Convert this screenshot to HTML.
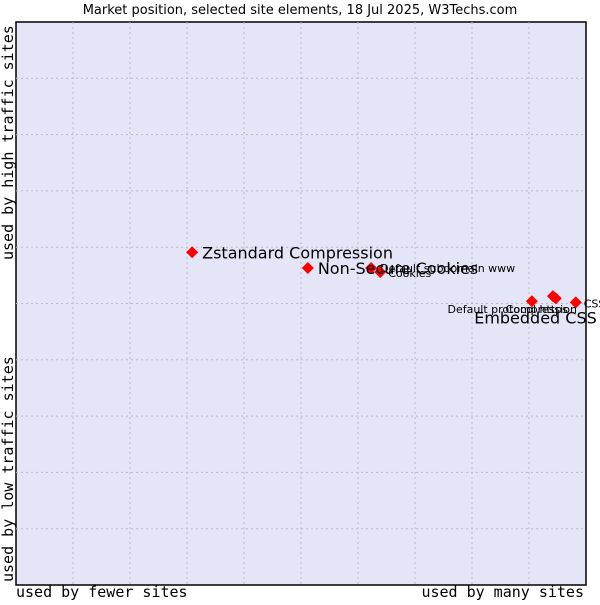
<!DOCTYPE html>
<html><head><meta charset="utf-8"><style>
body{margin:0;background:#fff;width:600px;height:600px;overflow:hidden}
svg text{font-family:"DejaVu Sans","Liberation Sans",sans-serif;fill:#000}
.mono{font-family:"DejaVu Sans Mono","Liberation Mono",monospace}
</style></head><body>
<svg id="chart" width="600" height="600">
<text x="300" y="14" font-size="13" text-anchor="middle">Market position, selected site elements, 18 Jul 2025, W3Techs.com</text>
<rect x="16" y="22" width="570" height="563" fill="#e4e5f7" stroke="#000" stroke-width="1.5"/>
<g id="grid"></g>
<text class="mono" x="16" y="597" font-size="15">used by fewer sites</text>
<text class="mono" x="584" y="597" font-size="15" text-anchor="end">used by many sites</text>
<text class="mono" transform="translate(13,260) rotate(-90)" font-size="15">used by high traffic sites</text>
<text class="mono" transform="translate(13,582) rotate(-90)" font-size="15">used by low traffic sites</text>
<g id="marks"></g>
</svg>
<script>
const names=["Zstandard Compression","Non-Secure Cookies","Default subdomain www","Cookies","Default protocol https","Compression","Embedded CSS","CSS"];
const xs=[30.9,51.2,62.3,63.9,90.5,94.2,94.7,98.2];
const ys=[59.1,56.3,56.3,55.6,50.4,51.3,50.9,50.2];
const big=[true,true,false,false,false,false,true,false];
const X0=16,X1=586,Y0=585,Y1=22;
const sx=v=>X0+v/100*(X1-X0), sy=v=>Y0-v/100*(Y0-Y1);
const NS="http://www.w3.org/2000/svg";
const grid=document.getElementById('grid');
for(let i=1;i<10;i++){
 const v=document.createElementNS(NS,'line');
 
 
 v.setAttribute('x1',sx(i*10));v.setAttribute('x2',sx(i*10));v.setAttribute('y1',Y1);v.setAttribute('y2',Y0);
 v.setAttribute('stroke','#bbb');v.setAttribute('stroke-dasharray','2,3');grid.appendChild(v);
 const h=document.createElementNS(NS,'line');
 
 
 h.setAttribute('y1',sy(i*10));h.setAttribute('y2',sy(i*10));h.setAttribute('x1',X0);h.setAttribute('x2',X1);
 h.setAttribute('stroke','#bbb');h.setAttribute('stroke-dasharray','2,3');grid.appendChild(h);
}
// label offsets (layout, not data)
const lo=[[10,6,'start'],[10,6,'start'],[9,4,'start'],[8,5,'start'],[36,12,'end'],[24,17,'end'],[41,25,'end'],[8,5,'start']];
const marks=document.getElementById('marks');
const labels=[];
names.forEach((n,i)=>{
 const x=sx(xs[i]),y=sy(ys[i]);
 const p=document.createElementNS(NS,'polygon');
 
 
 p.setAttribute('points',`${x},${y-6} ${x+6},${y} ${x},${y+6} ${x-6},${y}`);
 p.setAttribute('fill','#f00');marks.appendChild(p);
 const t=document.createElementNS(NS,'text');
 
 
 t.setAttribute('x',x+lo[i][0]);t.setAttribute('y',y+lo[i][1]);t.setAttribute('text-anchor',lo[i][2]);
 t.setAttribute('font-size',big[i]?16:11);t.textContent=n;labels.push(t);
});
labels.forEach(t=>marks.appendChild(t));
</script>
</body></html>
